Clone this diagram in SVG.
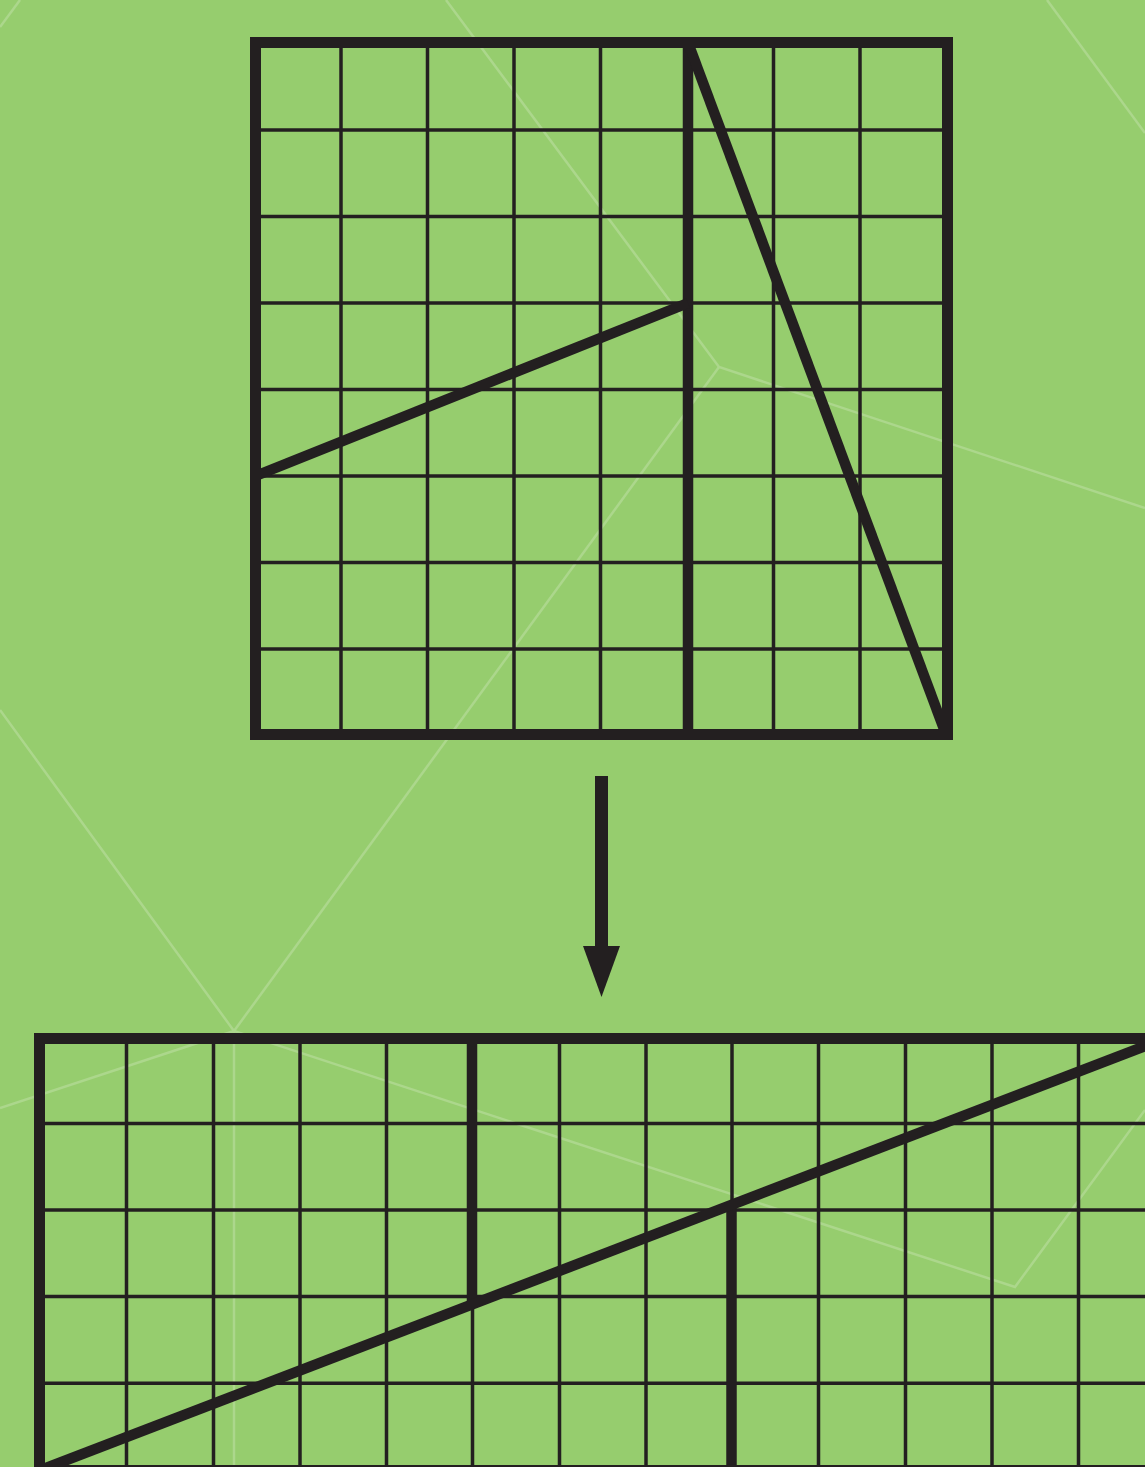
<svg xmlns="http://www.w3.org/2000/svg" width="1145" height="1467" viewBox="0 0 1145 1467">
<style>
.bg{fill:#96cd6e}
.faint{stroke:#acd78c;stroke-width:2.5;fill:none}
.thin{stroke:#231f20;stroke-width:3.5;fill:none}
.frame{stroke:#231f20;stroke-width:11;fill:none}
.cut{stroke:#231f20;stroke-width:10.5;fill:none;stroke-linecap:butt}
</style>
<rect class="bg" x="0" y="0" width="1145" height="1467"/>
<g id="background-lines" class="faint">
<line x1="0" y1="27" x2="20" y2="0"/>
<polyline points="446,0 719,367 1145,508"/>
<line x1="719" y1="367" x2="234" y2="1031"/>
<polyline points="0,710 234,1031 0,1108"/>
<polyline points="234,1031 1015,1287 1145,1110"/>
<line x1="234" y1="1031" x2="234" y2="1467"/>
<line x1="1047" y1="0" x2="1145" y2="133"/>
</g>
<g id="square-8x8">
<g class="thin">
<line x1="341" y1="42.5" x2="341" y2="734.5"/>
<line x1="427.5" y1="42.5" x2="427.5" y2="734.5"/>
<line x1="514" y1="42.5" x2="514" y2="734.5"/>
<line x1="600.5" y1="42.5" x2="600.5" y2="734.5"/>
<line x1="773.5" y1="42.5" x2="773.5" y2="734.5"/>
<line x1="860" y1="42.5" x2="860" y2="734.5"/>
<line x1="255.5" y1="130" x2="947.5" y2="130"/>
<line x1="255.5" y1="216.5" x2="947.5" y2="216.5"/>
<line x1="255.5" y1="303" x2="947.5" y2="303"/>
<line x1="255.5" y1="389.5" x2="947.5" y2="389.5"/>
<line x1="255.5" y1="476" x2="947.5" y2="476"/>
<line x1="255.5" y1="562.5" x2="947.5" y2="562.5"/>
<line x1="255.5" y1="649" x2="947.5" y2="649"/>
</g>
<line class="cut" x1="688" y1="42.5" x2="688" y2="734.5"/>
<line class="cut" x1="688" y1="42.5" x2="946" y2="734.5"/>
<line class="cut" x1="255.5" y1="476" x2="688" y2="303"/>
<rect class="frame" x="255.5" y="42.5" width="692" height="692"/>
</g>
<g id="rectangle-13x5">
<g class="thin">
<line x1="126.5" y1="1038.5" x2="126.5" y2="1470"/>
<line x1="213.5" y1="1038.5" x2="213.5" y2="1470"/>
<line x1="300" y1="1038.5" x2="300" y2="1470"/>
<line x1="386.5" y1="1038.5" x2="386.5" y2="1470"/>
<line x1="472.5" y1="1038.5" x2="472.5" y2="1470"/>
<line x1="559.5" y1="1038.5" x2="559.5" y2="1470"/>
<line x1="646" y1="1038.5" x2="646" y2="1470"/>
<line x1="732" y1="1038.5" x2="732" y2="1470"/>
<line x1="818.5" y1="1038.5" x2="818.5" y2="1470"/>
<line x1="905.5" y1="1038.5" x2="905.5" y2="1470"/>
<line x1="992" y1="1038.5" x2="992" y2="1470"/>
<line x1="1078.5" y1="1038.5" x2="1078.5" y2="1470"/>
<line x1="39.5" y1="1123.5" x2="1170" y2="1123.5"/>
<line x1="39.5" y1="1210" x2="1170" y2="1210"/>
<line x1="39.5" y1="1296.6" x2="1170" y2="1296.6"/>
<line x1="39.5" y1="1383.2" x2="1170" y2="1383.2"/>
</g>
<line class="cut" x1="472" y1="1038.5" x2="472" y2="1305"/>
<line class="cut" x1="731.5" y1="1204" x2="731.5" y2="1470"/>
<line class="cut" x1="39.5" y1="1470.5" x2="1165" y2="1038.5"/>
<rect class="frame" x="39.5" y="1038.5" width="1126" height="432"/>
</g>
<g id="connectors">
<g id="arrow" fill="#231f20">
<rect x="595" y="776" width="13" height="172"/>
<polygon points="583,946 620,946 601.5,997"/>
</g>
</g>
</svg>
